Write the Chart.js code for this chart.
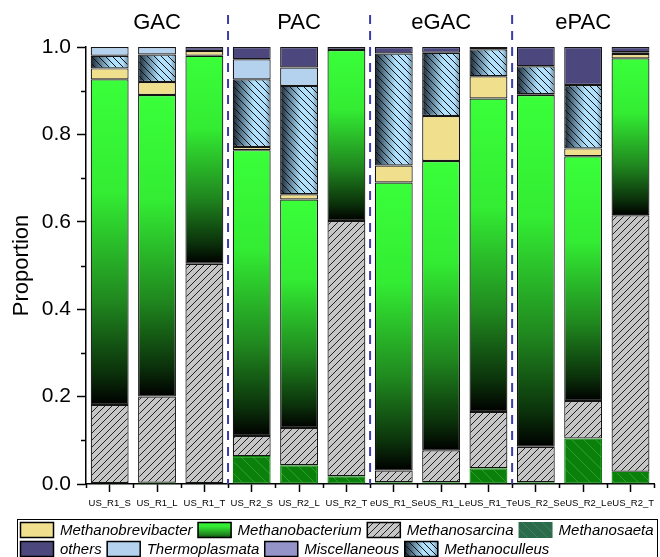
<!DOCTYPE html>
<html>
<head>
<meta charset="utf-8">
<script src="https://cdn.jsdelivr.net/npm/chart.js@4.4.0/dist/chart.umd.min.js"></script>
<style>
  html, body { margin: 0; padding: 0; background: #fff; }
</style>
</head>
<body>
<canvas id="chart" width="660" height="557"></canvas>
<script>
const samples = ['US_R1_S', 'US_R1_L', 'US_R1_T', 'US_R2_S', 'US_R2_L', 'US_R2_T',
                 'eUS_R1_S', 'eUS_R1_L', 'eUS_R1_T', 'eUS_R2_S', 'eUS_R2_L', 'eUS_R2_T'];
const groups = ['GAC', 'PAC', 'eGAC', 'ePAC'];

// stacked bottom -> top
const methanosaeta       = [0.002, 0.003, 0.002, 0.064, 0.043, 0.018, 0.004, 0.004, 0.036, 0.004, 0.104, 0.028];
const methanosarcina     = [0.179, 0.197, 0.502, 0.046, 0.085, 0.584, 0.027, 0.073, 0.129, 0.081, 0.086, 0.587];
const methanobacterium   = [0.745, 0.690, 0.476, 0.654, 0.523, 0.391, 0.659, 0.662, 0.717, 0.805, 0.560, 0.359];
const methanobrevibacter = [0.025, 0.030, 0.011, 0.007, 0.012, 0.000, 0.039, 0.103, 0.051, 0.002, 0.018, 0.010];
const methanoculleus     = [0.029, 0.063, 0.000, 0.155, 0.248, 0.000, 0.256, 0.145, 0.062, 0.064, 0.145, 0.004];
const thermoplasmata     = [0.020, 0.017, 0.000, 0.046, 0.042, 0.000, 0.000, 0.000, 0.000, 0.000, 0.000, 0.000];
const miscellaneous      = [0, 0, 0, 0, 0, 0, 0, 0, 0, 0, 0, 0];
const others             = [0.000, 0.000, 0.009, 0.028, 0.047, 0.007, 0.015, 0.013, 0.005, 0.044, 0.087, 0.012];

const legendRows = [
  ['Methanobrevibacter', 'Methanobacterium', 'Methanosarcina', 'Methanosaeta'],
  ['others', 'Thermoplasmata', 'Miscellaneous', 'Methanoculleus']
];

const FONT = "'Liberation Sans', Arial, sans-serif";

function hatch(bg, fg, size, dir, lw) {
  const c = document.createElement('canvas');
  c.width = c.height = size;
  const g = c.getContext('2d');
  if (bg) { g.fillStyle = bg; g.fillRect(0, 0, size, size); }
  g.strokeStyle = fg;
  g.lineWidth = lw;
  g.beginPath();
  if (dir === '/') {
    g.moveTo(0, size); g.lineTo(size, 0);
    g.moveTo(-1, 1); g.lineTo(1, -1);
    g.moveTo(size - 1, size + 1); g.lineTo(size + 1, size - 1);
  } else {
    g.moveTo(0, 0); g.lineTo(size, size);
    g.moveTo(size - 1, -1); g.lineTo(size + 1, 1);
    g.moveTo(-1, size - 1); g.lineTo(1, size + 1);
  }
  g.stroke();
  return document.createElement('canvas').getContext('2d').createPattern(c, 'repeat');
}

const sarcinaFill = hatch('#c6c6c6', '#222', 7, '/', 1);
const saetaFill = hatch('#0b800b', '#2aa02a', 12, '\\', 1);
const saetaSwatch = hatch('#2c6c4c', '#3e8060', 10, '\\', 1);
const culleusHatch = hatch(null, '#111', 7, '\\', 1);

const series = [
  { name: 'Methanosaeta', data: methanosaeta },
  { name: 'Methanosarcina', data: methanosarcina },
  { name: 'Methanobacterium', data: methanobacterium },
  { name: 'Methanobrevibacter', data: methanobrevibacter },
  { name: 'Methanoculleus', data: methanoculleus },
  { name: 'Thermoplasmata', data: thermoplasmata },
  { name: 'Miscellaneous', data: miscellaneous },
  { name: 'others', data: others }
];

function stackBase(di, j) {
  let s = 0;
  for (let k = 0; k < di; k++) s += series[k].data[j];
  return s;
}

function greenGradient(ctx, top, bot) {
  const g = ctx.createLinearGradient(0, top, 0, bot);
  g.addColorStop(0, '#3aff3a');
  g.addColorStop(0.35, '#33ec33');
  g.addColorStop(0.68, '#20881f');
  g.addColorStop(0.9, '#0b320b');
  g.addColorStop(1, '#000000');
  return g;
}

function blueGradient(ctx, left, right) {
  const g = ctx.createLinearGradient(left, 0, right, 0);
  g.addColorStop(0, '#17222c');
  g.addColorStop(0.25, '#5d7f96');
  g.addColorStop(0.55, '#afe1fd');
  g.addColorStop(0.85, '#b2e0fc');
  g.addColorStop(1, '#6a8ea6');
  return g;
}

function greenFill(c) {
  const chart = c.chart;
  if (c.type !== 'data' || !chart.chartArea) return '#2ee62e';
  const y = chart.scales.y;
  const base = stackBase(c.datasetIndex, c.dataIndex);
  const top = y.getPixelForValue(base + c.raw);
  const bot = y.getPixelForValue(base);
  if (!isFinite(top) || !isFinite(bot) || bot - top < 1) return '#2ee62e';
  return greenGradient(chart.ctx, top, bot);
}

function culleusFill(c) {
  const chart = c.chart;
  if (c.type !== 'data' || !chart.chartArea) return '#b4dcf4';
  const cx = chart.scales.x.getPixelForValue(c.dataIndex);
  const w = (chart.chartArea.right - chart.chartArea.left) / samples.length * 0.8;
  return blueGradient(chart.ctx, cx - w / 2, cx + w / 2);
}

const fills = {
  Methanosaeta: saetaFill,
  Methanosarcina: sarcinaFill,
  Methanobacterium: greenFill,
  Methanobrevibacter: '#f0e08e',
  Methanoculleus: culleusFill,
  Thermoplasmata: '#b4d2ee',
  Miscellaneous: '#9494c8',
  others: '#4c487e'
};

const decor = {
  id: 'decor',
  afterDatasetsDraw(chart) {
    const ctx = chart.ctx;
    // hatch over the Methanoculleus gradient
    const ci = series.findIndex(s => s.name === 'Methanoculleus');
    chart.getDatasetMeta(ci).data.forEach(bar => {
      const p = bar.getProps(['x', 'y', 'base', 'width'], true);
      const h = p.base - p.y;
      if (h < 2) return;
      ctx.save();
      ctx.beginPath();
      ctx.rect(p.x - p.width / 2 + 1, p.y + 1, p.width - 2, h - 2);
      ctx.clip();
      ctx.fillStyle = culleusHatch;
      ctx.fill();
      ctx.restore();
    });
  },
  afterDraw(chart) {
    const ctx = chart.ctx;
    const area = chart.chartArea;
    const xs = chart.scales.x, ys = chart.scales.y;
    ctx.save();
    // minor ticks
    ctx.strokeStyle = '#000';
    ctx.lineWidth = 1.5;
    ctx.beginPath();
    for (let v = 0.1; v < 1; v += 0.2) {
      const py = Math.round(ys.getPixelForValue(v)) + 0.5;
      ctx.moveTo(area.left, py); ctx.lineTo(area.left - 5, py);
    }
    for (let i = 0; i <= samples.length; i++) {
      const px = Math.round(xs.getPixelForValue(i - 0.5)) + 0.5;
      ctx.moveTo(px, area.bottom); ctx.lineTo(px, area.bottom + 4);
    }
    ctx.stroke();
    // group separators
    ctx.strokeStyle = '#3c3caa';
    ctx.lineWidth = 2;
    ctx.setLineDash([9, 7]);
    for (let k = 1; k < groups.length; k++) {
      const px = (xs.getPixelForValue(k * 3 - 1) + xs.getPixelForValue(k * 3)) / 2;
      ctx.beginPath();
      ctx.moveTo(px, 15); ctx.lineTo(px, area.bottom);
      ctx.stroke();
    }
    ctx.setLineDash([]);
    // group labels
    ctx.fillStyle = '#000';
    ctx.font = '22px ' + FONT;
    ctx.textAlign = 'center';
    ctx.textBaseline = 'middle';
    groups.forEach((g, k) => {
      const px = (xs.getPixelForValue(k * 3) + xs.getPixelForValue(k * 3 + 2)) / 2;
      ctx.fillText(g, px, 23);
    });
    // legend
    const top = area.bottom + 35;
    ctx.strokeStyle = '#000';
    ctx.lineWidth = 1;
    ctx.strokeRect(17.5, top + 0.5, 640, 60);
    ctx.font = 'italic 15px ' + FONT;
    ctx.textAlign = 'left';
    legendRows.forEach((row, r) => {
      let x = 20;
      const sy = top + 3 + r * 19;
      row.forEach(name => {
        let f = fills[name];
        if (name === 'Methanobacterium') f = greenGradient(ctx, sy - 4, sy + 20);
        if (name === 'Methanoculleus') f = blueGradient(ctx, x, x + 34);
        if (name === 'Methanosaeta') f = saetaSwatch;
        ctx.fillStyle = f;
        ctx.fillRect(x, sy, 34, 16);
        if (name === 'Methanoculleus') { ctx.fillStyle = culleusHatch; ctx.fillRect(x, sy, 34, 16); }
        if (name !== 'Methanosaeta') {
          ctx.strokeStyle = '#000';
          ctx.lineWidth = 1.5;
          ctx.strokeRect(x + 0.5, sy + 0.5, 33, 15);
        }
        ctx.fillStyle = '#000';
        ctx.textBaseline = 'middle';
        ctx.fillText(name, x + 40, sy + 9);
        x += 40 + ctx.measureText(name).width + 5;
      });
    });
    ctx.restore();
  }
};

new Chart(document.getElementById('chart'), {
  type: 'bar',
  data: {
    labels: samples,
    datasets: series.map(s => ({
      label: s.name,
      data: s.data,
      backgroundColor: fills[s.name],
      borderColor: s.name === 'Methanosaeta' ? '#0b800b' : '#151515',
      borderWidth: 1.2,
      borderSkipped: false,
      categoryPercentage: 1,
      barPercentage: 0.8
    }))
  },
  options: {
    responsive: false,
    animation: false,
    devicePixelRatio: 1,
    layout: { padding: { left: 16, right: 0, top: 47, bottom: 44 } },
    plugins: {
      tooltip: { enabled: false },
      legend: { display: false }
    },
    scales: {
      x: {
        stacked: true,
        offset: true,
        grid: { offset: false, drawOnChartArea: false, tickLength: 8, tickColor: '#000', tickWidth: 1.5 },
        border: { display: true, color: '#000', width: 1.5 },
        ticks: { font: { family: FONT, size: 9.5 }, color: '#000', maxRotation: 0, minRotation: 0, autoSkip: false, padding: 6 },
        afterFit(s) { s.height = 29; }
      },
      y: {
        stacked: true,
        min: 0,
        max: 1,
        grid: { drawOnChartArea: false, tickLength: 9, tickColor: '#000', tickWidth: 1.5 },
        border: { display: true, color: '#000', width: 1.5 },
        ticks: { stepSize: 0.2, font: { family: FONT, size: 21 }, color: '#000', padding: 6,
                 callback: v => v.toFixed(1) },
        title: { display: true, text: 'Proportion', font: { family: FONT, size: 22 }, color: '#000',
                 padding: { top: -7, bottom: 0 } },
        afterFit(s) { s.width = 70; }
      }
    }
  },
  plugins: [decor]
});
</script>
</body>
</html>
